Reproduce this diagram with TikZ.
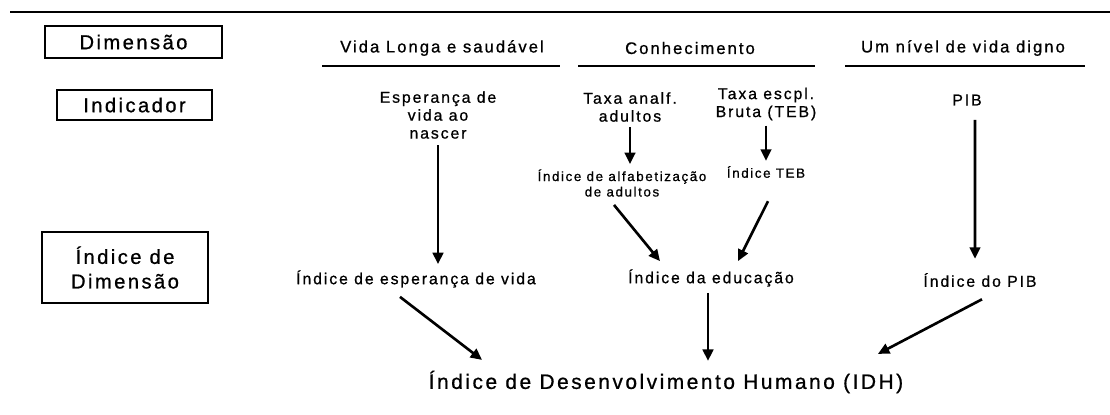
\documentclass[tikz,border=0pt]{standalone}
\usepackage{fontspec}
\setmainfont{Liberation Sans}
\newfontfamily\largo[LetterSpace=12,FakeBold=0.8]{Liberation Sans}
\usetikzlibrary{arrows.meta}
\tikzset{
	caixa/.style={draw, line width=1pt, inner sep=0pt, align=center, font=\largo\fontsize{11.5}{14}\selectfont},
	titulo/.style={inner sep=0pt, font=\largo\fontsize{9.5}{11}\selectfont},
	texto/.style={inner sep=0pt, align=center, font=\largo\fontsize{9}{10.2}\selectfont},
	textop/.style={inner sep=0pt, align=center, font=\largo\fontsize{7.6}{8.8}\selectfont},
	seta/.style={-{Triangle[length=6.5pt,width=6pt]}, line width=1.5pt},
}

\begin{document}
\begin{tikzpicture}[x=0.02cm, y=-0.02cm]
	\useasboundingbox (0,0) rectangle (1110,414);
	% nodes
	\node [caixa, minimum width=3.54cm, minimum height=0.64cm] (dim) at (133.5, 42) {Dimensão};
	\node [caixa, minimum width=3.1cm, minimum height=0.6cm] (ind) at (134.5, 105) {Indicador};
	\node [caixa, minimum width=3.32cm, minimum height=1.42cm] (idim) at (125, 267.5) {Índice de\\Dimensão};
	\node [titulo] (vida) at (442, 48) {Vida Longa e saudável};
	\node [titulo] (conh) at (690, 48) {Conhecimento};
	\node [titulo] (nivel) at (963, 48) {Um nível de vida digno};
	%% indicadores
	\node [texto] (esp) at (438, 115) {Esperança de\\vida ao\\nascer};
	\node [texto] (analf) at (630, 107) {Taxa analf.\\adultos};
	\node [texto] (escpl) at (766, 104) {Taxa escpl.\\Bruta (TEB)};
	\node [texto] (pib) at (967, 100) {PIB};
	\node [textop] (alf) at (622, 183) {Índice de alfabetização\\de adultos};
	\node [textop] (teb) at (766, 172) {Índice TEB};
	%% indices
	\node [texto] (iesp) at (416, 279) {Índice de esperança de vida};
	\node [texto] (educ) at (711, 278) {Índice da educação};
	\node [texto] (ipib) at (980, 280) {Índice do PIB};
	\node [caixa, draw=none, font=\largo\fontsize{11.9}{14}\selectfont] (idh) at (666, 382) {Índice de Desenvolvimento Humano (IDH)};
	% lines
	\draw [line width=1.4pt] (10, 12) -- (1110, 12);
	\draw [line width=1.2pt] (322, 66) -- (560, 66);
	\draw [line width=1.2pt] (578, 66) -- (815, 66);
	\draw [line width=1.2pt] (845, 66) -- (1085, 66);
	% edges
	\draw [seta] ([yshift=-0.12cm]esp.south) -- ([yshift=0.12cm]esp.south |- iesp.north);
	\draw [seta] ([yshift=-0.1cm]analf.south) -- ([yshift=0.1cm]analf.south |- alf.north);
	\draw [seta] ([yshift=-0.1cm]escpl.south) -- ([yshift=0.1cm]escpl.south |- teb.north);
	\draw [seta] ([xshift=0.16cm,yshift=-0.28cm]pib.south) -- ([xshift=-0.1cm,yshift=0.28cm]ipib.north);
	\draw [seta] ([xshift=-0.16cm,yshift=-0.16cm]alf.south) -- ([xshift=-1.02cm,yshift=0.16cm]educ.north);
	\draw [seta] ([xshift=0.04cm,yshift=-0.46cm]teb.south) -- ([xshift=0.54cm,yshift=0.16cm]educ.north);
	\draw [seta] ([xshift=-0.32cm,yshift=-0.18cm]iesp.south) -- ([xshift=-3.68cm,yshift=0.2cm]idh.north);
	\draw [seta] ([xshift=-0.06cm,yshift=-0.12cm]educ.south) -- ([xshift=-0.06cm,yshift=0.18cm]educ.south |- idh.north);
	\draw [seta] ([xshift=0.04cm,yshift=-0.24cm]ipib.south) -- ([xshift=4.24cm,yshift=0.32cm]idh.north);
\end{tikzpicture}
\end{document}
